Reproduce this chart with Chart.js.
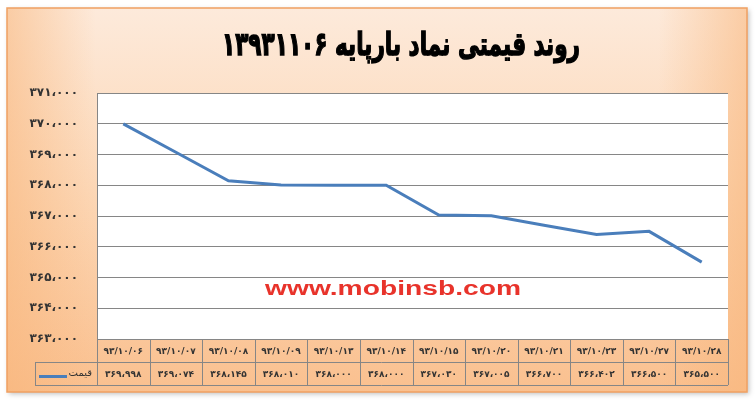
<!DOCTYPE html>
<html>
<head>
<meta charset="utf-8">
<script src="https://cdn.jsdelivr.net/npm/chart.js@4"></script>
<style>
html, body { margin: 0; padding: 0; background: #fff; }
</style>
</head>
<body>
<canvas id="graficoPrecio" width="756" height="405"></canvas>
<script>
// datos
var titulo = 'روند قیمتی نماد بارپایه ۱۳۹۳۱۱۰۶';
var fechas = ['۹۳/۱۰/۰۶', '۹۳/۱۰/۰۷', '۹۳/۱۰/۰۸', '۹۳/۱۰/۰۹', '۹۳/۱۰/۱۳', '۹۳/۱۰/۱۴',
              '۹۳/۱۰/۱۵', '۹۳/۱۰/۲۰', '۹۳/۱۰/۲۱', '۹۳/۱۰/۲۳', '۹۳/۱۰/۲۷', '۹۳/۱۰/۲۸'];
var precios = [369998, 369074, 368145, 368010, 368000, 368000,
               367030, 367005, 366700, 366402, 366500, 365500];
var nombreSerie = 'قیمت';
var marca = 'www.mobinsb.com';
var yMin = 363000, yMax = 371000, yPaso = 1000;

var FUENTE = 'DejaVu Sans';
var GRIS = '#868686';

function numFa(v) {
	return String(v).replace(/\B(?=(\d{3})+(?!\d))/g, '،')
		.replace(/\d/g, function (d) { return '۰۱۲۳۴۵۶۷۸۹'[d]; });
}

var fondo = {
	id: 'fondo',
	beforeDraw: function (chart) {
		var ctx = chart.ctx;
		ctx.save();
		ctx.fillStyle = '#fff';
		ctx.fillRect(0, 0, chart.width, chart.height);
		// sombra
		ctx.shadowColor = 'rgba(0,0,0,0.25)';
		ctx.shadowBlur = 5;
		ctx.shadowOffsetX = 2;
		ctx.shadowOffsetY = 2;
		var g = ctx.createLinearGradient(0, 8, 0, 392);
		g.addColorStop(0, '#FDEADB');
		g.addColorStop(0.5, '#FCD6B4');
		g.addColorStop(1, '#FAC08F');
		ctx.fillStyle = g;
		ctx.fillRect(7, 8, 740, 384);
		ctx.shadowColor = 'transparent';
		var h = ctx.createLinearGradient(7, 0, 747, 0);
		h.addColorStop(0, 'rgba(248,180,120,0.55)');
		h.addColorStop(0.12, 'rgba(248,180,120,0)');
		h.addColorStop(0.88, 'rgba(248,180,120,0)');
		h.addColorStop(1, 'rgba(248,180,120,0.55)');
		ctx.fillStyle = h;
		ctx.fillRect(7, 8, 740, 384);
		ctx.strokeStyle = '#F0A062';
		ctx.lineWidth = 1.5;
		ctx.strokeRect(7, 8, 740, 384);
		var a = chart.chartArea;
		ctx.fillStyle = '#fff';
		ctx.fillRect(a.left, a.top, a.right - a.left, a.bottom - a.top);
		ctx.restore();
	},
	afterDraw: function (chart) {
		var ctx = chart.ctx;
		var a = chart.chartArea;
		var xs = chart.scales.x;
		var n = fechas.length;
		var w = (xs.right - xs.left) / n;
		var f1 = a.bottom, f2 = a.bottom + 23, f3 = a.bottom + 46;
		var leyIzq = 35;
		ctx.save();
		// tabla
		ctx.strokeStyle = GRIS;
		ctx.lineWidth = 1;
		ctx.beginPath();
		ctx.moveTo(xs.left, f1 + 0.5); ctx.lineTo(xs.right, f1 + 0.5);
		ctx.moveTo(leyIzq, f2 + 0.5); ctx.lineTo(xs.right, f2 + 0.5);
		ctx.moveTo(leyIzq, f3 + 0.5); ctx.lineTo(xs.right, f3 + 0.5);
		ctx.moveTo(leyIzq + 0.5, f2); ctx.lineTo(leyIzq + 0.5, f3);
		for (var i = 0; i <= n; i++) {
			var xl = Math.round(xs.left + i * w) + 0.5;
			ctx.moveTo(xl, f1); ctx.lineTo(xl, f3);
		}
		ctx.stroke();
		// valores
		ctx.fillStyle = '#333';
		ctx.font = 'bold 9px "' + FUENTE + '"';
		ctx.textAlign = 'center';
		ctx.textBaseline = 'middle';
		for (var j = 0; j < n; j++) {
			ctx.fillText(numFa(precios[j]), xs.getPixelForValue(j), (f2 + f3) / 2 + 1);
		}
		// leyenda
		ctx.strokeStyle = chart.data.datasets[0].borderColor;
		ctx.lineWidth = 3;
		ctx.beginPath();
		ctx.moveTo(39, (f2 + f3) / 2 + 3);
		ctx.lineTo(67, (f2 + f3) / 2 + 3);
		ctx.stroke();
		ctx.fillStyle = '#333';
		ctx.font = '10px "' + FUENTE + '"';
		ctx.textAlign = 'right';
		ctx.direction = 'rtl';
		ctx.fillText(nombreSerie, 92, (f2 + f3) / 2);
		// marca
		ctx.direction = 'ltr';
		ctx.font = 'bold 20px "Liberation Sans"';
		ctx.fillStyle = '#E8332B';
		var mw = ctx.measureText(marca).width;
		ctx.translate(265, 289);
		ctx.scale(256 / mw, 1);
		ctx.textAlign = 'left';
		ctx.fillText(marca, 0, 0);
		ctx.setTransform(1, 0, 0, 1, 0, 0);
		// titulo
		ctx.font = 'bold 32px "' + FUENTE + '"';
		ctx.fillStyle = '#000';
		ctx.strokeStyle = '#000';
		ctx.lineWidth = 1.4;
		ctx.direction = 'rtl';
		ctx.textAlign = 'center';
		var tw = ctx.measureText(titulo).width;
		ctx.translate(401, 47);
		ctx.scale(Math.min(1, 358 / tw), 1);
		ctx.fillText(titulo, 0, 0);
		ctx.strokeText(titulo, 0, 0);
		ctx.restore();
	}
};

var contexto = document.getElementById('graficoPrecio');
var miGrafico = new Chart(contexto, {
	type: 'line',
	data: {
		labels: fechas,
		datasets: [{
			label: nombreSerie,
			data: precios,
			borderColor: '#4A7EBB',
			borderWidth: 3,
			pointRadius: 0,
			tension: 0,
			fill: false
		}]
	},
	options: {
		responsive: false,
		animation: false,
		layout: { padding: { left: 0, right: 28, top: 93, bottom: 20 } },
		plugins: {
			legend: { display: false },
			title: { display: false },
			tooltip: { enabled: false }
		},
		scales: {
			x: {
				offset: true,
				grid: { display: false, drawTicks: false },
				border: { display: false },
				ticks: {
					autoSkip: false,
					maxRotation: 0,
					padding: 7,
					color: '#333',
					font: { family: FUENTE, size: 9, weight: 'bold' }
				},
				afterFit: function (s) { s.height = 46; }
			},
			y: {
				min: yMin,
				max: yMax,
				grid: { color: GRIS, drawTicks: false },
				border: { display: true, color: GRIS },
				ticks: {
					stepSize: yPaso,
					padding: 19,
					color: '#333',
					font: { family: FUENTE, size: 12, weight: 'bold' },
					callback: function (v) { return numFa(v); }
				},
				afterFit: function (s) { s.width = 97; }
			}
		}
	},
	plugins: [fondo]
});
</script>
</body>
</html>
